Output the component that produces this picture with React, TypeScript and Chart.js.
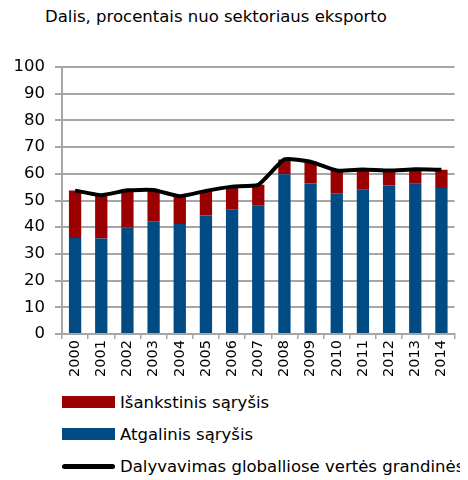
import React, { useEffect, useRef } from "react";
import { Chart, registerables } from "chart.js";

Chart.register(...registerables);

const years = ["2000","2001","2002","2003","2004","2005","2006","2007","2008","2009","2010","2011","2012","2013","2014"];
const backward = [36.0, 35.8, 40.0, 42.2, 41.2, 44.4, 46.5, 48.0, 59.8, 56.4, 52.7, 54.0, 55.6, 56.3, 54.7];
const forward = [17.7, 16.2, 13.8, 11.7, 10.4, 9.2, 8.7, 7.9, 5.6, 8.1, 8.5, 7.6, 5.6, 5.4, 6.8];
const total = [53.7, 52.0, 53.8, 53.9, 51.6, 53.6, 55.2, 55.9, 65.4, 64.5, 61.2, 61.6, 61.2, 61.7, 61.5];
const yTicks = [0, 10, 20, 30, 40, 50, 60, 70, 80, 90, 100];

const titleText = "Dalis, procentais nuo sektoriaus eksporto";
const labelForward = "Išankstinis sąryšis";
const labelBackward = "Atgalinis sąryšis";
const labelTotal = "Dalyvavimas globalliose vertės grandinėse";

const RED = "#9a0000";
const BLUE = "#004b84";
const GRID = "#a6a6a6";
const FONT = "'DejaVu Sans', sans-serif";

export default function App() {
  const ref = useRef<HTMLCanvasElement | null>(null);
  useEffect(() => {
    if (!ref.current) return;
    const chart = new Chart(ref.current, {
      type: "bar",
      data: {
        labels: years,
        datasets: [
          {
            type: "line",
            label: labelTotal,
            data: total,
            borderColor: "#000000",
            backgroundColor: "#000000",
            borderWidth: 4,
            pointRadius: 0,
            tension: 0.15,
            stack: "total",
            order: 0,
          } as any,
          {
            label: labelBackward,
            data: backward,
            backgroundColor: BLUE,
            stack: "bars",
            barPercentage: 0.47,
            categoryPercentage: 1,
            order: 1,
          },
          {
            label: labelForward,
            data: forward,
            backgroundColor: RED,
            stack: "bars",
            barPercentage: 0.47,
            categoryPercentage: 1,
            order: 1,
          },
        ],
      },
      options: {
        animation: false,
        responsive: false,
        maintainAspectRatio: false,
        layout: { padding: { top: 27, right: 5, left: 0, bottom: 0 } },
        plugins: { legend: { display: false }, tooltip: { enabled: false }, title: { display: false } },
        scales: {
          x: {
            stacked: true,
            grid: { display: true, drawOnChartArea: false, drawTicks: true, tickLength: 5, color: GRID, lineWidth: 1.5, offset: true },
            border: { color: GRID, width: 2 },
            ticks: { color: "#000", font: { family: FONT, size: 14.5 }, minRotation: 90, maxRotation: 90, padding: 1 },
            afterFit: (s: any) => { s.height = 52; },
          },
          y: {
            stacked: true,
            min: 0,
            max: 100,
            afterBuildTicks: (s: any) => { s.ticks = yTicks.map((v) => ({ value: v })); },
            grid: { color: GRID, lineWidth: 2, tickLength: 7 },
            border: { color: GRID, width: 2 },
            ticks: { color: "#000", font: { family: FONT, size: 16.5 }, padding: 10 },
            afterFit: (s: any) => { s.width = 54; },
          },
        },
      },
    });
    return () => chart.destroy();
  }, []);

  const row: React.CSSProperties = { display: "flex", alignItems: "center", height: 32, fontFamily: FONT, fontSize: 16.5, color: "#000", whiteSpace: "nowrap", overflow: "hidden" };
  const box = (c: string): React.CSSProperties => ({ flex: "none", width: 53, height: 12, background: c, marginLeft: 54, marginRight: 5 });

  return (
    <div style={{ width: 460, overflow: "hidden" }}>
      <div style={{ fontFamily: FONT, fontSize: 16.5, lineHeight: "18px", height: 18, marginLeft: 37, marginBottom: 14, whiteSpace: "nowrap" }}>{titleText}</div>
      <canvas ref={ref} width={452} height={346} style={{ display: "block", width: 452, height: 346 }} />
      <div style={row}><span style={box(RED)} />{labelForward}</div>
      <div style={row}><span style={box(BLUE)} />{labelBackward}</div>
      <div style={row}><span style={{ flex: "none", width: 53, height: 5, background: "#000", borderRadius: 3, marginLeft: 54, marginRight: 5 }} /><span>{labelTotal}</span></div>
    </div>
  );
}
